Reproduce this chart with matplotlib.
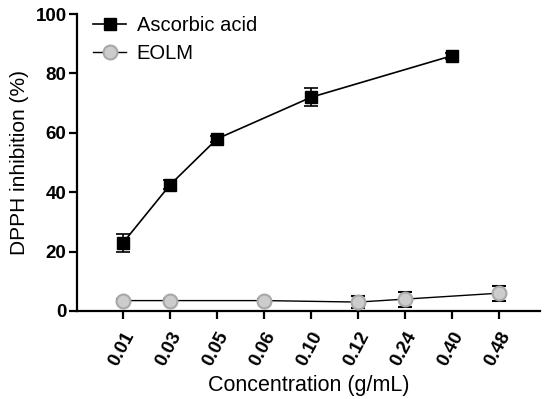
import matplotlib
matplotlib.use("Agg")
import matplotlib.pyplot as plt
from matplotlib.lines import Line2D
import numpy as np

plt.rcParams['font.family'] = ['Liberation Sans', 'DejaVu Sans']

categories = ['0.01', '0.03', '0.05', '0.06', '0.10', '0.12', '0.24', '0.40', '0.48']

asc_cats = ['0.01', '0.03', '0.05', '0.10', '0.40']
asc_vals = [23.0, 42.5, 58.0, 72.0, 86.0]
asc_err = [3.0, 1.5, 1.0, 3.0, 1.0]

eolm_cats = ['0.01', '0.03', '0.06', '0.12', '0.24', '0.48']
eolm_vals = [3.5, 3.5, 3.5, 3.0, 4.0, 6.0]
eolm_err = [0.5, 0.5, 0.5, 2.0, 2.5, 2.5]

fig = plt.figure(figsize=(5.5, 3.99), dpi=100)
ax = fig.add_axes([0.14, 0.2206, 0.842, 0.744])

xa = [categories.index(c) for c in asc_cats]
xe = [categories.index(c) for c in eolm_cats]

asc_style = dict(color='black', marker='s', markersize=9,
                 markerfacecolor='black', markeredgecolor='black', lw=1.2)
eolm_style = dict(color='black', marker='o', markersize=10,
                  markerfacecolor='#cccccc', markeredgecolor='#a8a8a8',
                  markeredgewidth=1.5, lw=1.0)

ax.errorbar(xa, asc_vals, yerr=asc_err, capsize=5, elinewidth=1.2, capthick=1.2,
            ecolor='black', zorder=3, **asc_style)
ax.errorbar(xe, eolm_vals, yerr=eolm_err, capsize=5, elinewidth=1.2, capthick=1.2,
            ecolor='black', zorder=3, **eolm_style)

ax.set_xlim(-0.98, 8.87)
ax.set_ylim(0, 100)
ax.set_yticks([0, 20, 40, 60, 80, 100])
ax.set_xticks(range(len(categories)))
ax.set_xticklabels(categories, rotation=62, ha='right', va='top', rotation_mode='anchor',
                   fontweight='bold', fontsize=13.5)
for lab in ax.get_yticklabels():
    lab.set_fontweight('bold')
    lab.set_fontsize(13.5)

for s in ['top', 'right']:
    ax.spines[s].set_visible(False)
for s in ['left', 'bottom']:
    ax.spines[s].set_linewidth(1.6)
ax.tick_params(axis='both', width=1.6, length=6, pad=1.5)
ax.tick_params(axis='x', pad=7)

ax.set_xlabel('Concentration (g/mL)', fontsize=15.5, labelpad=4)
ax.set_ylabel('DPPH inhibition (%)', fontsize=15, labelpad=5)

handles = [Line2D([], [], **asc_style), Line2D([], [], **eolm_style)]
leg = ax.legend(handles, ['Ascorbic acid', 'EOLM'], loc='upper left', frameon=False,
                fontsize=14.5, bbox_to_anchor=(0.005, 1.04), handlelength=1.6,
                handletextpad=0.55, labelspacing=0.45, borderaxespad=0.3)

fig.savefig('out.png', dpi=100)
